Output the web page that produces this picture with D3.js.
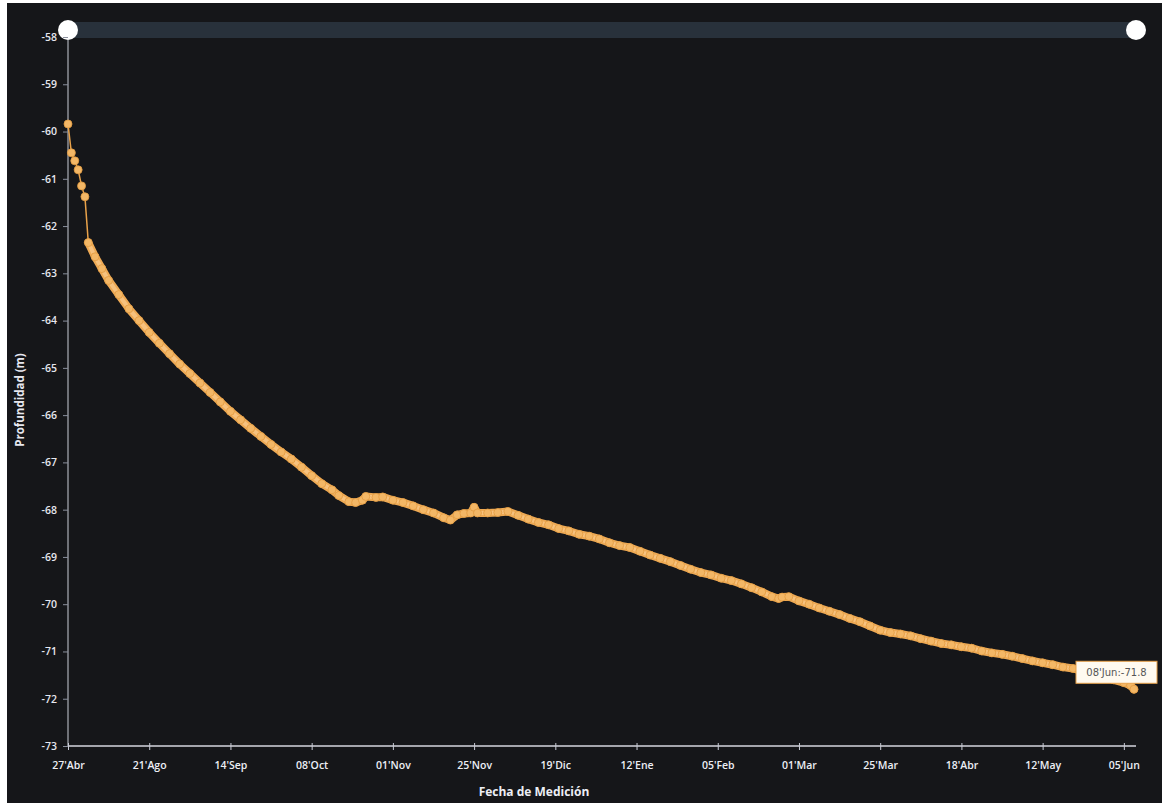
<!DOCTYPE html>
<html>
<head>
    <meta charset="utf-8">
    <script src="https://d3js.org/d3.v7.min.js"></script>
</head>

<style>
body {
    margin: 0;
    background: #ffffff;
}
svg text {
    font-family: "Open Sans", "Noto Sans", sans-serif;
}
</style>

<body>
<div id="chart"></div>

<script>
    // Primeras lecturas (abril-mayo), luego serie continua desde agosto
    var fechasInicio = ["2022-04-27", "2022-04-28", "2022-04-29", "2022-04-30", "2022-05-01", "2022-05-02"];
    var profInicio = [-59.84, -60.45, -60.62, -60.81, -61.15, -61.38];

    var fechas = [
        "2022-08-03", "2022-08-05", "2022-08-07", "2022-08-09", "2022-08-12", "2022-08-15", "2022-08-18",
        "2022-08-21", "2022-08-24", "2022-08-27", "2022-08-30", "2022-09-02", "2022-09-05", "2022-09-08",
        "2022-09-11", "2022-09-14", "2022-09-17", "2022-09-20", "2022-09-23", "2022-09-26", "2022-09-29",
        "2022-10-02", "2022-10-05", "2022-10-08", "2022-10-11", "2022-10-14", "2022-10-16", "2022-10-19",
        "2022-10-21", "2022-10-23", "2022-10-24", "2022-10-27", "2022-10-29", "2022-11-01", "2022-11-04",
        "2022-11-07", "2022-11-10", "2022-11-13", "2022-11-16", "2022-11-18", "2022-11-20", "2022-11-22",
        "2022-11-24", "2022-11-25", "2022-11-26", "2022-11-29", "2022-12-02", "2022-12-05", "2022-12-08",
        "2022-12-11", "2022-12-14", "2022-12-17", "2022-12-20", "2022-12-23", "2022-12-26", "2022-12-29",
        "2023-01-01", "2023-01-04", "2023-01-07", "2023-01-10", "2023-01-13", "2023-01-16", "2023-01-19",
        "2023-01-22", "2023-01-25", "2023-01-28", "2023-01-31", "2023-02-03", "2023-02-06", "2023-02-09",
        "2023-02-12", "2023-02-15", "2023-02-18", "2023-02-21", "2023-02-23", "2023-02-24", "2023-02-26",
        "2023-03-01", "2023-03-04", "2023-03-07", "2023-03-10", "2023-03-13", "2023-03-16", "2023-03-19",
        "2023-03-22", "2023-03-25", "2023-03-28", "2023-03-31", "2023-04-03", "2023-04-06", "2023-04-09",
        "2023-04-12", "2023-04-15", "2023-04-18", "2023-04-21", "2023-04-24", "2023-04-27", "2023-04-30",
        "2023-05-03", "2023-05-06", "2023-05-09", "2023-05-12", "2023-05-15", "2023-05-18", "2023-05-21",
        "2023-05-24", "2023-05-27", "2023-05-30", "2023-06-02", "2023-06-05", "2023-06-07", "2023-06-08"
    ];
    var profundidad = [
        -62.35, -62.65, -62.90, -63.15, -63.45, -63.75, -64.00,
        -64.25, -64.48, -64.70, -64.92, -65.12, -65.32, -65.52,
        -65.72, -65.92, -66.10, -66.28, -66.45, -66.62, -66.78,
        -66.93, -67.10, -67.28, -67.45, -67.58, -67.70, -67.83,
        -67.85, -67.80, -67.72, -67.74, -67.73, -67.80, -67.85,
        -67.92, -68.00, -68.07, -68.17, -68.22, -68.11, -68.08,
        -68.07, -67.95, -68.07, -68.07, -68.06, -68.04, -68.12,
        -68.20, -68.27, -68.32, -68.40, -68.45, -68.52, -68.56,
        -68.62, -68.70, -68.76, -68.80, -68.88, -68.96, -69.03,
        -69.10, -69.18, -69.26, -69.33, -69.38, -69.45, -69.50,
        -69.57, -69.65, -69.74, -69.84, -69.88, -69.85, -69.84,
        -69.93, -70.00, -70.08, -70.15, -70.22, -70.30, -70.37,
        -70.46, -70.55, -70.60, -70.63, -70.67, -70.73, -70.78,
        -70.83, -70.86, -70.90, -70.93, -70.99, -71.03, -71.06,
        -71.10, -71.15, -71.20, -71.24, -71.28, -71.33, -71.36,
        -71.42, -71.47, -71.53, -71.60, -71.66, -71.72, -71.80
    ];

    // Etiquetas del eje X (cada 24 lecturas) y del eje Y
    var fechasTicks = ["2022-04-27", "2022-08-21", "2022-09-14", "2022-10-08", "2022-11-01", "2022-11-25",
        "2022-12-19", "2023-01-12", "2023-02-05", "2023-03-01", "2023-03-25", "2023-04-18",
        "2023-05-12", "2023-06-05"];
    var yTicks = d3.range(-58, -74, -1);

    var W = 1162, H = 803;
    var parse = d3.timeParse("%Y-%m-%d");

    var es = d3.timeFormatLocale({
        dateTime: "%x, %X", date: "%d/%m/%Y", time: "%H:%M:%S", periods: ["AM", "PM"],
        days: ["domingo", "lunes", "martes", "miércoles", "jueves", "viernes", "sábado"],
        shortDays: ["dom", "lun", "mar", "mié", "jue", "vie", "sáb"],
        months: ["enero", "febrero", "marzo", "abril", "mayo", "junio", "julio", "agosto",
                 "septiembre", "octubre", "noviembre", "diciembre"],
        shortMonths: ["Ene", "Feb", "Mar", "Abr", "May", "Jun", "Jul", "Ago", "Sep", "Oct", "Nov", "Dic"]
    });
    var fmt = es.format("%d'%b");

    var datos = fechasInicio.map((f, i) => ({fecha: parse(f), v: profInicio[i]}))
        .concat(fechas.map((f, i) => ({fecha: parse(f), v: profundidad[i]})));
    var ultimo = datos[datos.length - 1];

    var svg = d3.select("#chart").append("svg")
        .attr("width", W)
        .attr("height", H);

    // fondo oscuro (hoja escaneada con borde blanco)
    svg.append("rect")
        .attr("x", 7).attr("y", 3)
        .attr("width", W - 7).attr("height", H - 3)
        .attr("fill", "#151619");

    // El eje X es por lectura: la pausa entre mayo y agosto ocupa un solo paso
    var left = 68, right = 1134;
    var nPasos = 315;
    var paso = d3.scaleLinear().domain([0, nPasos]).range([left, right]);
    var x = d3.scaleTime()
        .domain([parse(fechasInicio[0]), parse(fechasInicio[5]), parse(fechas[0]), parse(fechas[fechas.length - 1])])
        .range([paso(0), paso(5), paso(6), paso(nPasos)]);

    var y = d3.scaleLinear()
        .domain([-58, -73])
        .range([37, 746]);

    // barra de navegación superior
    svg.append("rect")
        .attr("x", left).attr("y", 22)
        .attr("width", 1136 - left).attr("height", 16)
        .attr("fill", "#28313b");
    svg.selectAll("circle.handle")
        .data([left, 1136])
        .enter().append("circle")
        .attr("class", "handle")
        .attr("cx", d => d).attr("cy", 30)
        .attr("r", 10)
        .attr("fill", "#ffffff");

    // eje Y
    var yAxis = svg.append("g")
        .attr("transform", "translate(" + left + ",0)")
        .call(d3.axisLeft(y).tickValues(yTicks).tickSize(5).tickPadding(6).tickFormat(d3.format("d")));
    yAxis.select(".domain").attr("stroke", "#c9ccd6").attr("d", "M0,40V746");
    yAxis.selectAll(".tick line").attr("stroke", "#8a8f9c");
    yAxis.selectAll("text")
        .attr("fill", "#e6e7ef")
        .attr("font-size", "10.5px")
        .attr("font-weight", 600)
        .text(d => d3.format("d")(d).replace("−", "-"));

    // eje X
    var xAxis = svg.append("g")
        .attr("transform", "translate(0," + y(-73) + ")")
        .call(d3.axisBottom(x).tickValues(fechasTicks.map(parse)).tickSize(4).tickPadding(12).tickFormat(fmt));
    xAxis.select(".domain").attr("stroke", "#d4d6de").attr("stroke-width", 1.5)
        .attr("d", "M" + left + ",0H1136");
    xAxis.selectAll(".tick line").attr("stroke", "#c9ccd6").attr("y1", -3);
    xAxis.selectAll("text")
        .attr("fill", "#eceef5")
        .attr("font-size", "10.5px")
        .attr("font-weight", 600);

    // títulos de ejes
    svg.append("text")
        .attr("transform", "translate(24,400) rotate(-90)")
        .attr("text-anchor", "middle")
        .attr("fill", "#e6e7ef")
        .attr("font-size", "11.5px")
        .attr("font-weight", 700)
        .text("Profundidad (m)");
    svg.append("text")
        .attr("x", 534).attr("y", 796)
        .attr("text-anchor", "middle")
        .attr("fill", "#eceef5")
        .attr("font-size", "12px")
        .attr("font-weight", 700)
        .text("Fecha de Medición");

    // serie
    var linea = d3.line()
        .x(d => x(d.fecha))
        .y(d => y(d.v));

    var serie = datos.slice(fechasInicio.length);
    svg.append("path")
        .datum(serie)
        .attr("fill", "none")
        .attr("stroke", "#eeaa55")
        .attr("stroke-width", 8)
        .attr("stroke-linejoin", "round")
        .attr("stroke-linecap", "round")
        .attr("d", linea);
    svg.append("path")
        .datum(datos)
        .attr("fill", "none")
        .attr("stroke", "#e9a24a")
        .attr("stroke-width", 1.5)
        .attr("d", linea);
    svg.append("path")
        .datum(serie)
        .attr("fill", "none")
        .attr("stroke", "#f7c27e")
        .attr("stroke-width", 4)
        .attr("stroke-linejoin", "round")
        .attr("d", linea);

    svg.append("g")
        .selectAll("circle")
        .data(datos)
        .enter().append("circle")
        .attr("cx", d => x(d.fecha))
        .attr("cy", d => y(d.v))
        .attr("r", 4)
        .attr("fill", "#f3b766")
        .attr("stroke", "#e29a40")
        .attr("stroke-width", 0.8);

    // etiqueta del último punto
    var tip = svg.append("g")
        .attr("transform", "translate(" + (x(ultimo.fecha) - 58) + "," + (y(ultimo.v) - 28) + ")");
    tip.append("rect")
        .attr("width", 81).attr("height", 22)
        .attr("fill", "#fffaf0")
        .attr("stroke", "#e8a048")
        .attr("stroke-width", 1);
    tip.append("text")
        .attr("x", 40.5).attr("y", 15)
        .attr("text-anchor", "middle")
        .attr("fill", "#555555")
        .attr("font-size", "10px")
        .style("font-family", "'DejaVu Sans', sans-serif")
        .text(fmt(ultimo.fecha) + ":" + ultimo.v.toFixed(1));
</script>
</body>
</html>
